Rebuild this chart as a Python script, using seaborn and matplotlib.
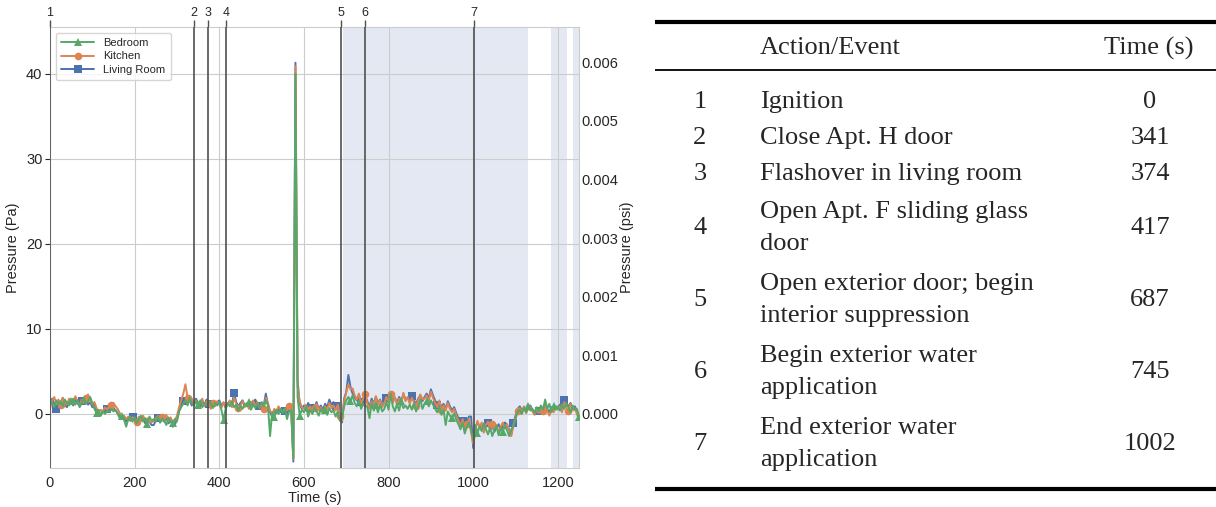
import numpy as np
import pandas as pd
import matplotlib
matplotlib.use("Agg")
import matplotlib.pyplot as plt
import seaborn as sns

# Pressure traces (Pa), one sample every 5 s from 0 to 1250 s
time_step = 5
living_room = [
    1.0, 1.8, 1.2, 0.6, 1.5, 1.3, 1.9, 1.1, 0.8, 1.6,
    1.4, 1.0, 1.7, 1.3, 0.9, 1.5, 1.2, 1.8, 1.1, 1.4,
    0.8, 1.2, 0.3, 0.0, -0.1, 0.4, 0.2, 0.6, 0.3, 0.5,
    0.7, 0.4, 0.1, -0.3, -0.6, -0.4, -0.9, -0.5, -0.8, -0.3,
    -0.7, -1.0, -0.5, -0.8, -0.4, -1.1, -0.7, -0.9, -1.3, -1.3,
    -0.8, -0.5, -1.0, -0.6, -0.9, -0.4, -1.1, -0.7, -1.5, -1.3,
    -0.6, 0.4, 1.0, 1.5, 1.9, 1.2, 1.6, 1.0, 1.4, 1.8,
    1.3, 0.9, 1.5, 1.1, 1.7, 1.2, 0.8, 1.4, 1.0, 1.3,
    1.6, 1.0, 1.3, 0.7, 1.2, 1.5, 1.1, 2.5, 1.4, 0.9,
    1.3, 1.6, 1.0, 1.2, 0.8, 1.4, 1.1, 1.7, 1.2, 0.9,
    1.3, 1.0, 2.4, 1.1, 0.2, -0.3, 0.4, 0.1, 0.6, 0.2,
    0.5, 0.3, 0.8, 0.4, 0.7, -5.6, 41.3, 4.0, 1.2, 0.6,
    1.0, 0.4, 1.3, 0.7, 0.2, 0.9, 1.4, 0.6, 1.0, 0.5,
    1.2, 0.8, 1.7, 1.1, 1.4, 0.9, 1.3, -0.5, -1.0, 1.8,
    2.6, 4.6, 3.2, 2.4, 2.0, 1.6, 2.3, 1.4, 1.9, 2.1,
    1.5, 0.8, 1.8, 1.2, 2.0, 1.3, 1.7, 1.0, 1.5, 1.9,
    1.4, 2.2, 1.6, 1.9, 1.3, 2.0, 1.5, 2.3, 1.7, 1.9,
    1.4, 2.1, 1.6, 1.2, 1.8, 2.2, 1.5, 2.0, 2.4, 1.8,
    2.9, 2.2, 1.6, 1.0, 1.4, 0.8, 1.2, 0.6, 1.5, 0.9,
    0.4, 0.8, 0.1, -0.5, -1.2, -0.8, -1.6, -0.9, -0.3, -0.3,
    -4.0, -1.6, -1.0, -1.4, -1.3, -2.0, -1.5, -1.1, -1.8, -1.4,
    -2.1, -1.6, -1.2, -1.9, -1.4, -1.0, -1.3, -1.8, -2.4, -1.1,
    -0.2, 0.6, 0.9, 0.4, 0.8, 0.3, 0.7, 1.0, 0.5, 0.2,
    0.7, 0.3, 0.9, 0.5, 1.1, 0.6, 0.2, 0.8, 0.4, 0.9,
    0.7, 1.1, 0.5, 1.7, 1.2, 0.9, 1.3, 0.6, 0.9, 0.4,
    -0.5,
]
kitchen = [
    0.6, 1.5, 2.0, 1.2, 1.7, 1.0, 1.9, 1.4, 1.1, 1.8,
    1.6, 1.2, 2.1, 1.5, 1.0, 1.7, 1.3, 1.9, 2.3, 1.6,
    1.1, 1.4, 0.7, 0.2, 0.5, 0.3, 0.8, 0.5, 0.9, 1.1,
    1.3, 0.9, 0.6, 0.1, -0.4, -0.2, -0.6, -0.3, -0.7, -0.4,
    -0.5, -0.9, -0.3, -0.7, -0.2, -0.8, -0.5, -0.9, -1.0, -0.8,
    -0.5, -0.2, -0.8, -0.3, -0.6, -0.1, -0.9, -0.4, -1.0, -0.8,
    -0.2, 0.8, 1.6, 2.4, 3.5, 1.9, 1.4, 1.8, 1.1, 1.6,
    1.0, 1.4, 1.8, 0.9, 1.5, 1.2, 0.6, 1.3, 0.9, 1.5,
    1.1, 0.7, 1.4, 0.9, 1.2, 1.6, 0.8, 1.9, 1.2, 0.7,
    1.0, 1.5, 0.8, 1.3, 0.6, 1.2, 1.6, 0.9, 1.4, 0.7,
    1.1, 0.6, 1.9, 1.3, 0.4, 0.0, 0.6, 0.3, 0.9, 0.5,
    0.2, 0.6, 0.4, 0.9, 0.5, -5.3, 40.9, 3.2, 1.5, 0.8,
    0.6, 1.1, 0.5, 0.9, 0.3, 0.7, 1.2, 0.4, 0.8, 0.2,
    0.9, 0.5, 1.3, 0.7, 1.0, 0.4, 1.1, -0.2, -0.8, 1.5,
    2.5, 3.5, 2.9, 3.0, 2.2, 1.7, 2.4, 1.2, 1.8, 2.3,
    1.2, 0.6, 1.5, 1.0, 2.1, 1.1, 1.6, 0.8, 1.3, 2.0,
    1.5, 2.4, 1.3, 2.0, 1.1, 1.8, 1.3, 2.5, 1.5, 2.0,
    1.2, 1.9, 1.4, 0.9, 1.6, 2.3, 1.7, 1.8, 2.2, 1.5,
    2.6, 1.9, 1.3, 0.8, 1.6, 0.5, 1.0, 0.4, 1.3, 0.6,
    0.2, 0.6, -0.2, -0.8, -1.4, -0.6, -1.9, -1.2, -0.6, -2.2,
    -3.5, -1.8, -0.8, -1.6, -1.0, -2.2, -1.3, -0.9, -2.0, -1.2,
    -1.8, -1.3, -2.2, -1.5, -1.0, -1.7, -1.2, -2.0, -2.6, -1.3,
    -0.4, 0.4, 0.7, 0.2, 0.9, 0.1, 0.6, 0.9, 0.3, -0.1,
    0.5, 0.1, 0.8, 0.3, 1.0, 0.4, -0.2, 0.6, 0.2, 0.8,
    0.5, 0.9, 0.2, 1.4, 0.8, 0.3, 1.2, 0.4, 0.7, 0.0,
    -0.7,
]
bedroom = [
    1.8, 1.2, 0.8, 1.6, 1.1, 1.5, 0.9, 1.7, 1.3, 1.0,
    1.5, 1.8, 1.1, 1.6, 0.8, 1.3, 1.9, 1.2, 1.5, 2.0,
    1.3, 0.6, 0.1, 0.5, -0.2, 0.3, 0.0, 0.4, 0.2, 0.6,
    0.3, 0.5, 0.0, -0.5, -0.2, -0.7, -1.5, -0.6, -0.3, -0.9,
    -0.4, -1.1, -0.6, -0.2, -0.9, -0.5, -1.2, -0.3, -0.8, -0.6,
    -0.9, -0.3, -1.0, -0.5, -0.8, -1.3, -0.4, -0.9, -1.1, -0.6,
    -0.9, 0.3, 0.8, 1.2, 1.6, 1.0, 1.9, 1.3, 1.0, 1.5,
    1.1, 1.6, 0.8, 1.3, 1.0, 1.5, 1.2, 0.7, 1.3, 1.0,
    1.4, 0.5, -0.7, 0.6, 1.3, 0.9, 1.5, 0.8, 1.1, 0.4,
    1.0, 0.6, 1.2, 0.9, 1.4, 0.5, 1.1, 0.7, 1.2, 0.8,
    1.4, 0.9, 1.6, 1.0, -2.6, 0.2, -0.4, 0.5, 0.0, 0.6,
    0.1, 0.7, -0.6, 0.3, 0.4, -5.2, 40.0, 2.0, -0.2, 0.5,
    0.2, 0.9, -0.3, 0.5, 0.0, 0.8, 0.3, -0.2, 0.6, 0.1,
    0.5, -0.1, 0.7, 0.2, 0.4, -0.3, 0.3, -0.8, -0.4, 0.9,
    1.6, 2.0, 1.5, 2.2, 1.3, 0.9, 1.6, 0.6, 1.2, 1.0,
    0.8, -0.5, 1.3, 0.4, 1.0, 0.2, 1.1, 0.3, 0.6, 1.4,
    0.5, 2.4, 0.9, 0.3, 1.2, 0.4, 1.5, 0.7, 1.0, 0.6,
    1.1, 0.5, 1.3, 0.3, 0.9, 1.7, 0.6, 1.2, 1.5, 0.9,
    1.6, 1.1, 0.6, 0.2, 0.9, -0.1, 0.5, -1.3, 0.3, -0.2,
    -0.5, 0.1, -0.7, -1.2, -1.8, -1.0, -2.3, -1.5, -1.0, -1.9,
    -3.0, -1.3, -2.2, -1.5, -2.0, -1.1, -1.8, -2.4, -1.6, -2.6,
    -1.9, -1.4, -2.5, -1.7, -2.1, -1.3, -1.9, -2.6, -1.8, -1.5,
    -0.6, 0.3, 0.5, 0.0, 0.7, 0.2, 0.9, 0.4, 0.6, 0.1,
    0.8, 0.3, 1.0, 0.5, 1.7, 0.6, 1.2, 0.2, 0.9, 0.5,
    0.9, 0.4, 1.1, 0.6, 1.3, 0.8, 0.2, 1.0, 0.5, 0.6,
    -0.3,
]

# events (timeline table)
event_ids = ["1", "2", "3", "4", "5", "6", "7"]
event_times = [0, 341, 374, 417, 687, 745, 1002]
event_desc = [
    "Ignition",
    "Close Apt. H door",
    "Flashover in living room",
    "Open Apt. F sliding glass\ndoor",
    "Open exterior door; begin\ninterior suppression",
    "Begin exterior water\napplication",
    "End exterior water\napplication",
]

# shaded suppression periods (s)
shade_start = [693, 1185, 1237]
shade_end = [1129, 1222, 1260]

PA_PER_PSI = 6894.76

sns.set_style("whitegrid")
plt.rcParams["font.family"] = ["Liberation Sans", "DejaVu Sans"]

times = np.arange(len(living_room)) * time_step
df = pd.DataFrame({"Time": times, "Living Room": living_room,
                   "Kitchen": kitchen, "Bedroom": bedroom})

fig = plt.figure(figsize=(12.16, 5.07), dpi=100)
ax = fig.add_axes([50 / 1216, 1 - 468 / 507, 529 / 1216, 441 / 507])
ax.set_axisbelow(True)

for s, e in zip(shade_start, shade_end):
    ax.axvspan(s, e, color="#e4e8f2", lw=0, zorder=0)

pal = sns.color_palette("deep")
series = [("Living Room", pal[0], "s", 3),
          ("Kitchen", pal[1], "o", 5),
          ("Bedroom", pal[2], "^", 10)]
for name, col, mk, off in series:
    sns.lineplot(data=df, x="Time", y=name, ax=ax, color=col, lw=1.4,
                 marker=mk, markersize=5.5, markeredgewidth=0,
                 markevery=(off, 12), label=name, zorder=3)

for t in event_times:
    ax.axvline(t, color="#505050", lw=1.2, zorder=4)

ax.set_xlim(0, 1250)
ax.set_ylim(-6.35, 45.5)
ax.set_xticks([0, 200, 400, 600, 800, 1000, 1200])
ax.set_yticks([0, 10, 20, 30, 40])
ax.set_xlabel("Time (s)", fontsize=10.5, labelpad=1)
ax.set_ylabel("Pressure (Pa)", fontsize=10.5, labelpad=4)
ax.tick_params(labelsize=10.5, pad=2)

handles, labels = ax.get_legend_handles_labels()
ax.legend(handles[::-1], labels[::-1], loc="upper left", fontsize=8,
          handlelength=3, frameon=True, borderpad=0.5, labelspacing=0.3)

# psi axis on the right
ax2 = ax.twinx()
ax2.set_ylim(-6.35 / PA_PER_PSI, 45.5 / PA_PER_PSI)
ax2.set_yticks([0, 0.001, 0.002, 0.003, 0.004, 0.005, 0.006])
ax2.set_yticklabels(["0.000", "0.001", "0.002", "0.003", "0.004", "0.005", "0.006"])
ax2.grid(False)
ax2.tick_params(labelsize=10.5, pad=2, length=0)
ax2.set_ylabel("Pressure (psi)", fontsize=10.5, labelpad=1)
for sp in ax2.spines.values():
    sp.set_visible(False)

# event numbers on top
top = ax.secondary_xaxis("top")
top.set_xticks(event_times)
top.set_xticklabels(event_ids)
top.tick_params(length=5, width=1, color="#505050", labelsize=9, pad=1)
top.spines["top"].set_visible(False)

# table on the right
tab = fig.add_axes([655 / 1216, 0, 561 / 1216, 1])
tab.set_xlim(655, 1216)
tab.set_ylim(507, 0)
tab.axis("off")
serif = ["Liberation Serif", "DejaVu Serif"]
fs = 19
tab.axhline(22, color="black", lw=3)
tab.axhline(70, color="black", lw=1.3)
tab.axhline(489, color="black", lw=3)
tab.text(760, 48, "Action/Event", family=serif, fontsize=fs, ha="left", va="center")
tab.text(1149, 48, "Time (s)", family=serif, fontsize=fs, ha="center", va="center")

line_h = 36
y = 84
for eid, desc, t in zip(event_ids, event_desc, event_times):
    n = desc.count("\n") + 1
    yc = y + n * line_h / 2
    tab.text(700, yc, eid, family=serif, fontsize=fs, ha="center", va="center")
    tab.text(760, yc, desc, family=serif, fontsize=fs, ha="left", va="center",
             linespacing=1.62)
    tab.text(1150, yc, str(t), family=serif, fontsize=fs, ha="center", va="center")
    y += n * line_h

fig.savefig("out.png", dpi=100)
